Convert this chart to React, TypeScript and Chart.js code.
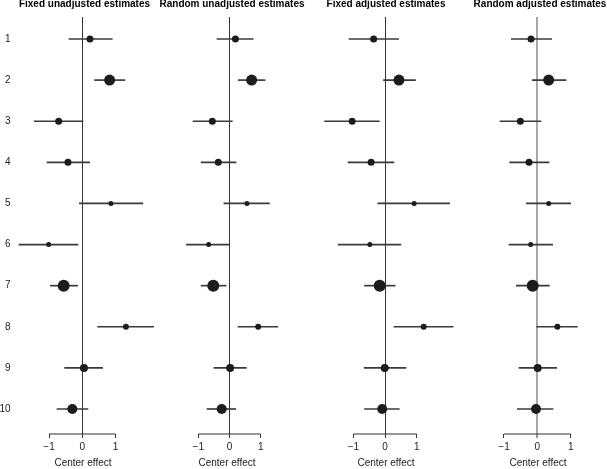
import React, { useEffect, useRef } from 'react';
import Chart from 'chart.js/auto';

const centers = [1, 2, 3, 4, 5, 6, 7, 8, 9, 10];
const centerWeights = [3.5, 5.5, 3.5, 3.5, 2.5, 2.5, 6, 3, 4, 5];
const xTickValues = [-1, 0, 1];

const fixedUnadjEst = [0.23, 0.82, -0.71, -0.43, 0.86, -1.01, -0.56, 1.31, 0.05, -0.3];
const fixedUnadjLow = [-0.4, 0.37, -1.44, -1.06, -0.09, -1.9, -0.96, 0.46, -0.53, -0.76];
const fixedUnadjHigh = [0.9, 1.28, 0.02, 0.22, 1.82, -0.13, -0.14, 2.14, 0.61, 0.17];

const randomUnadjEst = [0.19, 0.71, -0.55, -0.36, 0.56, -0.67, -0.52, 0.92, 0.02, -0.25];
const randomUnadjLow = [-0.4, 0.28, -1.17, -0.91, -0.18, -1.38, -0.91, 0.27, -0.5, -0.72];
const randomUnadjHigh = [0.76, 1.14, 0.09, 0.21, 1.28, -0.02, -0.11, 1.55, 0.54, 0.2];

const fixedAdjEst = [-0.36, 0.44, -1.04, -0.44, 0.92, -0.48, -0.17, 1.22, -0.01, -0.09];
const fixedAdjLow = [-1.14, -0.05, -1.91, -1.17, -0.23, -1.48, -0.65, 0.28, -0.66, -0.65];
const fixedAdjHigh = [0.43, 0.96, -0.18, 0.28, 2.04, 0.5, 0.32, 2.15, 0.66, 0.45];

const randomAdjEst = [-0.19, 0.34, -0.51, -0.25, 0.34, -0.2, -0.14, 0.6, 0.01, -0.04];
const randomAdjLow = [-0.78, -0.15, -1.12, -0.83, -0.33, -0.85, -0.63, -0.02, -0.55, -0.6];
const randomAdjHigh = [0.43, 0.86, 0.11, 0.35, 1.0, 0.46, 0.36, 1.2, 0.58, 0.47];

const panelTitles = [
  'Fixed unadjusted estimates',
  'Random unadjusted estimates',
  'Fixed adjusted estimates',
  'Random adjusted estimates',
];
const xAxisTitle = 'Center effect';

const Y_MIN = 0.465;
const Y_MAX = 10.608;

const FONT = '"Liberation Sans", Arial, Helvetica, sans-serif';

type PanelProps = {
  title: string;
  est: number[];
  low: number[];
  high: number[];
  canvasLeft: number;
  canvasWidth: number;
  minus1Px: number;
  plus1Px: number;
  xMin: number;
  xMax: number;
  showY: boolean;
  zeroColor: string;
  zeroWidth: number;
};

function Panel(p: PanelProps) {
  const ref = useRef<HTMLCanvasElement | null>(null);
  useEffect(() => {
    if (!ref.current) return;
    const k = (p.plus1Px - p.minus1Px) / 2;
    const c = (p.plus1Px + p.minus1Px) / 2;
    const chartLeft = c + p.xMin * k;
    const chartRight = c + p.xMax * k;
    const leftW = chartLeft - p.canvasLeft;
    const rightW = p.canvasLeft + p.canvasWidth - chartRight;
    const labelRight = 10.5;

    const chart = new Chart(ref.current, {
      type: 'bar',
      data: {
        datasets: [
          {
            type: 'bar',
            data: centers.map((cc, i) => ({ y: cc, x: [p.low[i], p.high[i]] })) as any,
            backgroundColor: '#3a3a3a',
            borderWidth: 0,
            barThickness: 1,
            clip: false as any,
            order: 2,
          } as any,
          {
            type: 'line',
            indexAxis: 'x',
            data: [
              { x: xTickValues[0], y: Y_MAX },
              { x: xTickValues[xTickValues.length - 1], y: Y_MAX },
            ],
            borderColor: '#333',
            borderWidth: 1,
            pointRadius: 0,
            clip: false as any,
            order: 3,
          } as any,
          {
            type: 'bubble',
            data: centers.map((cc, i) => ({ x: p.est[i], y: cc, r: centerWeights[i] })),
            backgroundColor: '#1c1c1c',
            borderWidth: 0,
            hoverRadius: 0,
            clip: false as any,
            order: 1,
          } as any,
        ],
      },
      options: {
        indexAxis: 'y',
        animation: false,
        responsive: false,
        events: [],
        layout: { padding: 0 },
        plugins: {
          legend: { display: false },
          tooltip: { enabled: false },
          title: {
            display: true,
            text: p.title,
            color: '#000',
            font: { family: FONT, size: 10, weight: 'bold', lineHeight: 0.8 },
            padding: { top: 0, bottom: 9 },
          },
        },
        scales: {
          x: {
            type: 'linear',
            min: p.xMin,
            max: p.xMax,
            offset: false,
            afterBuildTicks: (s: any) => {
              s.ticks = xTickValues.map((v) => ({ value: v }));
            },
            afterFit: (s: any) => {
              s.height = 35;
              s.paddingLeft = 0;
              s.paddingRight = 0;
            },
            grid: {
              drawOnChartArea: true,
              color: (ctx: any) =>
                ctx.tick && ctx.tick.value === 0 ? p.zeroColor : 'rgba(0,0,0,0)',
              lineWidth: (ctx: any) => (ctx.tick && ctx.tick.value === 0 ? p.zeroWidth : 1),
              tickColor: '#333',
              tickLength: 4,
              tickWidth: 1,
            },
            border: { display: false },
            ticks: {
              padding: 3,
              color: '#222',
              maxRotation: 0,
              autoSkip: false,
              font: { family: FONT, size: 10 },
              callback: (v: any) => (v < 0 ? '\u2212' + Math.abs(v) : String(v)),
            },
            title: {
              display: true,
              text: xAxisTitle,
              color: '#222',
              font: { family: FONT, size: 10 },
              padding: { top: 0, bottom: 0 },
            },
          },
          y: {
            type: 'linear',
            position: 'left',
            reverse: true,
            min: Y_MIN,
            max: Y_MAX,
            offset: false,
            display: true,
            afterBuildTicks: (s: any) => {
              s.ticks = centers.map((v) => ({ value: v }));
            },
            afterFit: (s: any) => {
              s.width = leftW;
              s.paddingTop = 0;
              s.paddingBottom = 0;
            },
            grid: { display: false, drawTicks: false },
            border: { display: false },
            ticks: {
              display: p.showY,
              padding: leftW - labelRight,
              color: '#222',
              autoSkip: false,
              font: { family: FONT, size: 10 },
              callback: (v: any) => String(v),
            },
          },
          yr: {
            type: 'linear',
            position: 'right',
            display: true,
            afterFit: (s: any) => {
              s.width = rightW;
              s.paddingTop = 0;
              s.paddingBottom = 0;
            },
            grid: { display: false, drawTicks: false },
            border: { display: false },
            ticks: { display: false },
          },
        },
      } as any,
    });
    return () => chart.destroy();
  }, []);
  return (
    <canvas
      ref={ref}
      width={p.canvasWidth}
      height={469}
      style={{ position: 'absolute', left: p.canvasLeft, top: 0, width: p.canvasWidth, height: 469 }}
    />
  );
}

export default function App() {
  return (
    <div
      style={{
        position: 'fixed',
        left: 0,
        top: 0,
        width: 607,
        height: 469,
        overflow: 'hidden',
        background: '#fff',
      }}
    >
      <Panel title={panelTitles[0]} est={fixedUnadjEst} low={fixedUnadjLow} high={fixedUnadjHigh}
        canvasLeft={0} canvasWidth={169} minus1Px={49} plus1Px={115.6} xMin={-2.12} xMax={2.16}
        showY={true} zeroColor="#333" zeroWidth={1} />
      <Panel title={panelTitles[1]} est={randomUnadjEst} low={randomUnadjLow} high={randomUnadjHigh}
        canvasLeft={157} canvasWidth={150} minus1Px={198.3} plus1Px={260.7} xMin={-1.76} xMax={1.6}
        showY={false} zeroColor="#333" zeroWidth={1} />
      <Panel title={panelTitles[2]} est={fixedAdjEst} low={fixedAdjLow} high={fixedAdjHigh}
        canvasLeft={311} canvasWidth={150} minus1Px={350.7} plus1Px={417.3} xMin={-2.15} xMax={2.21}
        showY={false} zeroColor="#333" zeroWidth={1} />
      <Panel title={panelTitles[3]} est={randomAdjEst} low={randomAdjLow} high={randomAdjHigh}
        canvasLeft={460} canvasWidth={160} minus1Px={504} plus1Px={570.7} xMin={-1.4} xMax={1.44}
        showY={false} zeroColor="#a8a8a8" zeroWidth={2} />
    </div>
  );
}
